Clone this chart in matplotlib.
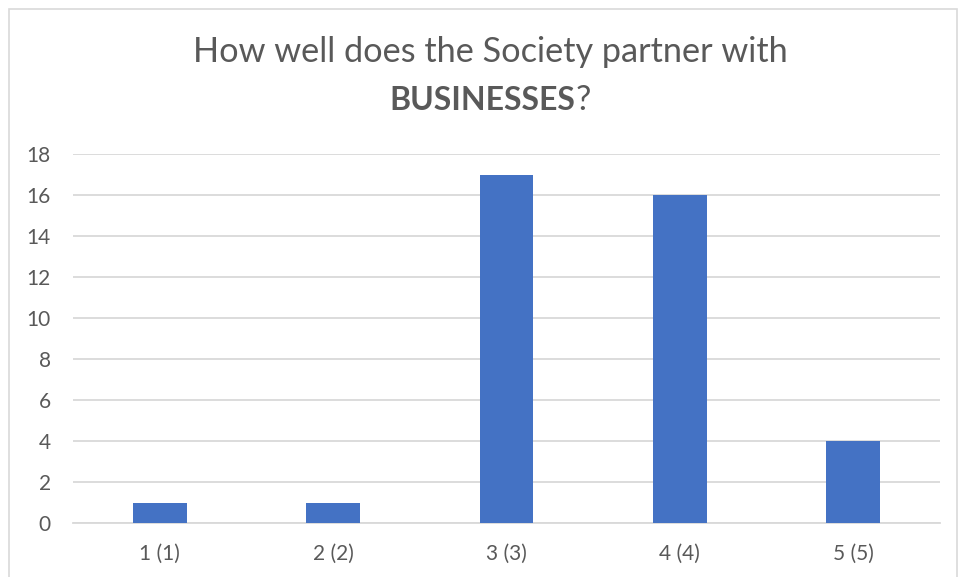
import matplotlib
matplotlib.use("Agg")
import matplotlib.pyplot as plt
from matplotlib.patches import Rectangle

# data
categories = ["1 (1)", "2 (2)", "3 (3)", "4 (4)", "5 (5)"]
counts = [1, 1, 17, 16, 4]
y_ticks = [0, 2, 4, 6, 8, 10, 12, 14, 16, 18]

TITLE_LINE1 = "How well does the Society partner with"
TITLE_BOLD = "BUSINESSES"
TITLE_END = "?"

BAR_COLOR = "#4472C4"
TEXT_COLOR = "#595959"
GRID_COLOR = "#D9D9D9"
FONT = ["Lato", "DejaVu Sans"]

plt.rcParams["font.family"] = FONT

W, H = 961, 577
fig = plt.figure(figsize=(W / 100, H / 100), dpi=100)
fig.patch.set_facecolor("white")

# chart border (light gray frame)
fig.patches.append(Rectangle((9 / W, -0.05), 948 / W, 1.05 - 9 / H,
                             transform=fig.transFigure, fill=False,
                             edgecolor="#D9D9D9", linewidth=1.2))

ax = fig.add_axes([73 / W, 1 - 523 / H, (940 - 73) / W, (523 - 154) / H])
x = range(len(categories))
ax.bar(x, counts, width=0.31, color=BAR_COLOR, zorder=3)

ax.set_xlim(-0.5, len(categories) - 0.5)
ax.set_ylim(0, 18)
ax.set_yticks(y_ticks)
ax.set_xticks(list(x))
ax.set_xticklabels(categories)
ax.yaxis.grid(True, color=GRID_COLOR, linewidth=1.3, zorder=0)
ax.set_axisbelow(True)
for s in ["top", "right", "left"]:
    ax.spines[s].set_visible(False)
ax.spines["bottom"].set_color(GRID_COLOR)
ax.spines["bottom"].set_linewidth(1.3)
ax.tick_params(axis="both", length=0, labelsize=15, labelcolor=TEXT_COLOR)
ax.tick_params(axis="y", pad=16)
ax.tick_params(axis="x", pad=15)

# title, two lines, second partly bold
cx = 490 / W
fig.text(cx, 1 - 52 / H, TITLE_LINE1, ha="center", va="center",
         fontsize=24.7, color=TEXT_COLOR)
renderer = fig.canvas.get_renderer()
tb = fig.text(0, 1 - 100 / H, TITLE_BOLD, ha="left", va="center",
              fontsize=23, fontweight="bold", color=TEXT_COLOR)
te = fig.text(0, 1 - 100 / H, TITLE_END, ha="left", va="center",
              fontsize=24.7, color=TEXT_COLOR)
wb = tb.get_window_extent(renderer).width
we = te.get_window_extent(renderer).width
x0 = cx * W - (wb + we) / 2
tb.set_x(x0 / W)
te.set_x((x0 + wb) / W)

fig.savefig("out.png", dpi=100)
